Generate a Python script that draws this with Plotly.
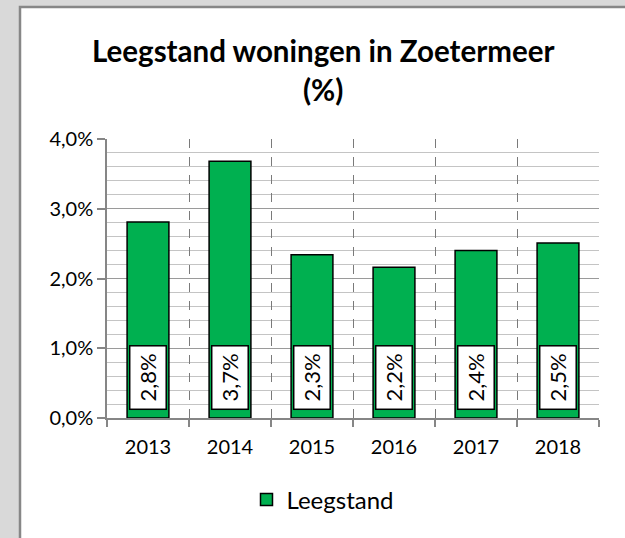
import plotly.graph_objects as go

years = ["2013", "2014", "2015", "2016", "2017", "2018"]
leegstand = [2.81, 3.68, 2.34, 2.16, 2.40, 2.51]
label_texts = ["2,8%", "3,7%", "2,3%", "2,2%", "2,4%", "2,5%"]
y_tickvals = [0, 1, 2, 3, 4]
y_ticktext = ["0,0%", "1,0%", "2,0%", "3,0%", "4,0%"]

FONT = "Lato, 'Open Sans', sans-serif"
W, H = 625, 538
L, R, T, B = 107, 26, 139, 120
pw, ph = W - L - R, H - T - B

def px_to_paper_x(px):
    return (px - L) / pw

def px_to_paper_y(py):
    return (H - B - py) / ph

fig = go.Figure()
fig.add_trace(go.Bar(
    x=years, y=leegstand, name="Leegstand",
    marker=dict(color="#00b050", line=dict(color="#000000", width=1.5)),
    hoverinfo="skip",
))

annotations = []
for i, txt in enumerate(label_texts):
    annotations.append(dict(
        x=i, y=0.573, xref="x", yref="y", text=txt, textangle=-90,
        showarrow=False, xanchor="center", yanchor="middle",
        font=dict(family=FONT, size=22, color="#000000"),
        bgcolor="#ffffff", bordercolor="#000000", borderwidth=1.5,
        borderpad=1, width=60, height=33,
    ))

annotations.append(dict(
    x=px_to_paper_x(323), y=px_to_paper_y(50), xref="paper", yref="paper",
    text="<b>Leegstand woningen in Zoetermeer</b>", showarrow=False,
    xanchor="center", yanchor="middle",
    font=dict(family=FONT, size=29.5, color="#000000"),
))
annotations.append(dict(
    x=px_to_paper_x(323), y=px_to_paper_y(89), xref="paper", yref="paper",
    text="<b>(%)</b>", showarrow=False,
    xanchor="center", yanchor="middle",
    font=dict(family=FONT, size=29.5, color="#000000"),
))

shapes = [
    dict(type="rect", xref="paper", yref="paper", layer="below",
         x0=px_to_paper_x(20), x1=px_to_paper_x(640),
         y0=px_to_paper_y(560), y1=px_to_paper_y(7),
         fillcolor="#ffffff", line=dict(color="#878787", width=2.5)),
]

fig.update_layout(
    width=W, height=H,
    margin=dict(l=L, r=R, t=T, b=B, pad=0),
    paper_bgcolor="#d9d9d9", plot_bgcolor="rgba(0,0,0,0)",
    font=dict(family=FONT, size=20, color="#000000"),
    bargap=0.49,
    showlegend=True,
    legend=dict(orientation="h", x=px_to_paper_x(323), xanchor="center",
                y=px_to_paper_y(500), yanchor="middle",
                font=dict(family=FONT, size=24, color="#000000"),
                bgcolor="rgba(0,0,0,0)", itemwidth=30),
    annotations=annotations,
    shapes=shapes,
)

fig.update_xaxes(
    type="category", tickson="boundaries",
    showline=True, linecolor="#868686", linewidth=1.5,
    ticks="outside", ticklen=7, tickcolor="#868686", tickwidth=1.5,
    showgrid=True, gridcolor="#7a7a7a", griddash="dash", gridwidth=1.3,
    tickfont=dict(family=FONT, size=20, color="#000000"),
    ticklabelstandoff=10,
    range=[-0.5, 5.5], fixedrange=True,
)
fig.update_yaxes(
    range=[0, 4], tickvals=y_tickvals, ticktext=y_ticktext,
    showline=True, linecolor="#868686", linewidth=1.5,
    ticks="outside", ticklen=8, tickcolor="#868686", tickwidth=1.5,
    showgrid=True, gridcolor="#9a9a9a", gridwidth=1.3,
    minor=dict(dtick=0.2, showgrid=True, gridcolor="#c4c4c4", gridwidth=1.3,
               ticks=""),
    zeroline=False,
    tickfont=dict(family=FONT, size=20, color="#000000"),
    fixedrange=True,
)

fig.write_html("out.html", config={"displayModeBar": False},
               post_script="document.body.style.margin='0';")
